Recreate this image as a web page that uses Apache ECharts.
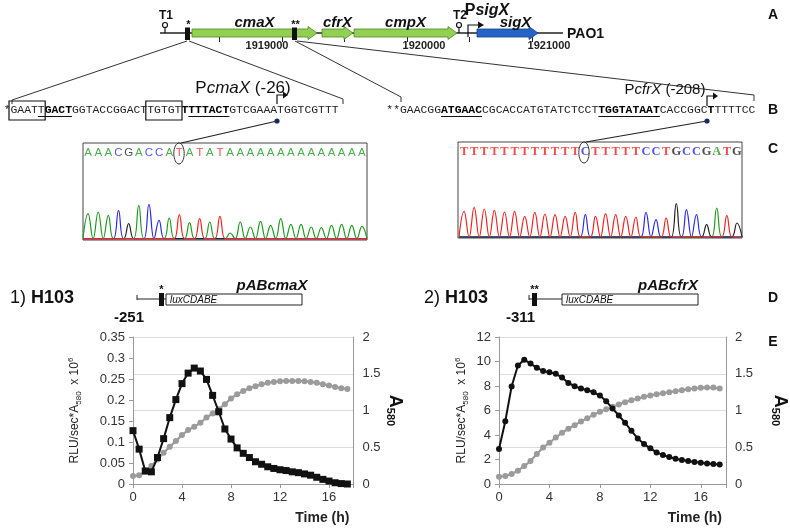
<!DOCTYPE html>
<html><head><meta charset="utf-8">
<script src="https://cdn.jsdelivr.net/npm/echarts@6/dist/echarts.min.js"></script>
<style>html,body{margin:0;padding:0;background:#fff}#c{width:790px;height:530px}</style>
</head><body><div id="c"></div>
<script>
// ---------- Panel E data ----------
const times = [0,0.5,1,1.5,2,2.5,3,3.5,4,4.5,5,5.5,6,6.5,7,7.5,8,8.5,9,9.5,10,10.5,11,11.5,12,12.5,13,13.5,14,14.5,15,15.5,16,16.5,17,17.5];
const cmaxRLU = [0.127,0.083,0.031,0.029,0.063,0.108,0.158,0.201,0.239,0.264,0.276,0.269,0.249,0.211,0.172,0.131,0.107,0.086,0.073,0.063,0.053,0.047,0.041,0.037,0.034,0.032,0.029,0.027,0.024,0.021,0.016,0.011,0.007,0.003,0.001,0.0];
const cmaxA580 = [0.109,0.118,0.167,0.244,0.335,0.425,0.507,0.584,0.665,0.733,0.778,0.833,0.905,0.959,1.018,1.086,1.163,1.222,1.267,1.303,1.330,1.357,1.376,1.389,1.398,1.403,1.403,1.403,1.398,1.389,1.376,1.357,1.339,1.321,1.303,1.294];
const cfrxRLU = [2.85,5.13,7.96,9.67,10.15,9.83,9.48,9.23,9.12,8.99,8.69,8.25,7.98,7.79,7.66,7.49,7.22,6.76,6.16,5.59,5.00,4.34,3.72,3.26,2.91,2.58,2.36,2.20,2.06,1.95,1.87,1.79,1.74,1.68,1.63,1.60];
const cfrxA580 = [0.100,0.109,0.136,0.181,0.244,0.312,0.407,0.498,0.561,0.633,0.697,0.751,0.801,0.851,0.896,0.941,0.982,1.018,1.050,1.081,1.113,1.140,1.163,1.186,1.204,1.222,1.235,1.249,1.262,1.276,1.290,1.299,1.308,1.312,1.312,1.299];
const xTicksE = [0,4,8,12,16];

// ---------- Panel C chromatogram data ----------
const chromLeftBases = 'AAACGACCATATATAAAAAAAAAAAAAA';
const chromLeftPeaks = [75,80,70,85,45,100,103,55,62,72,48,60,50,67,17,50,35,52,40,60,43,43,35,33,40,43,40,37];
const chromRightBases = 'TTTTTTTTTTTTCTTTTTCCTGCCGATG';
const chromRightPeaks = [77,89,84,80,75,77,62,74,69,67,62,74,67,62,70,67,62,60,74,52,57,100,82,67,37,87,64,42];

// ---------- Panel A gene map data ----------
const mapStart = [1918024,1918064,1918224,1918280,1919080,1919320,1919576,1920416,1920488,1920560];
const mapEnd   = [1921248,1918064,1918264,1919280,1919120,1919568,1920400,1920416,1920488,1921048];
const mapKind  = ['line','term','box','geneG','box','geneG','geneG','term','prom','geneB'];
const mapLabel = ['PAO1','T1','*','cmaX','**','cfrX','cmpX','T2','sigX','sigX'];
const mapTickPos = [1918500,1919000,1919500,1920000,1920500,1921000];
const mapTickLabels = [1919000,1920000,1921000];

// ---------- Panel B sequences ----------
const seqLeft = 'GAATTGACTGGTACCGGACTTGTGTTTTTACTGTCGAAATGGTCGTTT';
const seqRight = 'GAACGGATGAACCGCACCATGTATCTCCTTGGTATAATCACCGGCTTTTTCC';

const SANS = 'Liberation Sans, Arial, sans-serif';
const NARROW = 'Liberation Sans Narrow, Liberation Sans, Arial, sans-serif';
const MONO = 'Liberation Mono, Courier New, monospace';
const baseColor = {A:'#1f9a1f', C:'#2a2ae6', G:'#222222', T:'#ee2222'};

const chart = echarts.init(document.getElementById('c'));

function renderMap(params, api) {
  const i = params.dataIndex;
  const kind = mapKind[i], label = mapLabel[i];
  const p0 = api.coord([api.value(0), 0.5]);
  const p1 = api.coord([api.value(1), 0.5]);
  const x0 = p0[0], x1 = p1[0], y = p0[1];
  if (kind === 'line') {
    return {type:'group', children:[
      {type:'line', shape:{x1:x0,y1:y,x2:x1,y2:y}, style:{stroke:'#222', lineWidth:1.3}},
      {type:'text', style:{text:label, x:x1+4, y:y+1, verticalAlign:'middle', font:'bold 14px '+SANS, fill:'#111'}}
    ]};
  }
  if (kind === 'geneG' || kind === 'geneB') {
    const fill = kind === 'geneG' ? '#93cf52' : '#2366c8';
    const stroke = kind === 'geneG' ? '#4a8a22' : '#173f85';
    const hl = 9;
    return {type:'group', children:[
      {type:'polygon', shape:{points:[[x0,y-4],[x1-hl,y-4],[x1-hl,y-6.5],[x1,y],[x1-hl,y+6.5],[x1-hl,y+4],[x0,y+4]]},
        style:{fill:fill, stroke:stroke, lineWidth:0.8}},
      {type:'text', style:{text:label, x:(x0+x1)/2 + (kind==='geneB'?8:0), y:y-10, align:'center', verticalAlign:'middle',
        font:'italic bold 15px '+NARROW, fill:'#111'}}
    ]};
  }
  if (kind === 'box') {
    return {type:'group', children:[
      {type:'rect', shape:{x:x0, y:y-5.5, width:Math.max(x1-x0,4.5), height:12.5}, style:{fill:'#111'}},
      {type:'text', style:{text:label, x:(x0+x1)/2+1, y:y-8, align:'center', verticalAlign:'middle', font:'bold 11px '+SANS, fill:'#111'}}
    ]};
  }
  if (kind === 'term') {
    return {type:'group', children:[
      {type:'line', shape:{x1:x0,y1:y,x2:x0,y2:y-5.5}, style:{stroke:'#111', lineWidth:1.2}},
      {type:'circle', shape:{cx:x0, cy:y-8, r:2.5}, style:{fill:'#fff', stroke:'#111', lineWidth:1.2}},
      {type:'text', style:{text:label, x:x0+1, y:y-17, align:'center', verticalAlign:'middle', font:'bold 12px '+NARROW, fill:'#111'}}
    ]};
  }
  if (kind === 'prom') {
    return {type:'group', children:[
      {type:'polyline', shape:{points:[[x0,y+4],[x0,y-8],[x0+11,y-8]]}, style:{stroke:'#111', lineWidth:1.2, fill:null}},
      {type:'polygon', shape:{points:[[x0+10,y-11.5],[x0+16,y-8],[x0+10,y-4.5]]}, style:{fill:'#111'}},
      {type:'text', style:{text:'{p|P}{i|'+label+'}', x:x0+19, y:y-22, align:'center', verticalAlign:'middle',
        rich:{p:{font:'bold 16px '+NARROW, fill:'#111'}, i:{font:'italic bold 16px '+NARROW, fill:'#111'}}}}
    ]};
  }
  return null;
}

function chromSeries(bases, peaks, axisIdx) {
  const out = [];
  ['A','C','G','T'].forEach(b => {
    const data = [];
    for (let i = 0; i < bases.length; i++) {
      data.push([i-0.5, 0]);
      data.push([i, bases[i] === b ? peaks[i] : 0]);
    }
    data.push([bases.length-0.5, 0]);
    out.push({type:'line', xAxisIndex:axisIdx, yAxisIndex:axisIdx, data:data, smooth:0.45, showSymbol:false,
      lineStyle:{color:baseColor[b], width:1.2}, silent:true, z:2});
  });
  return out;
}
function letterSeries(bases, axisIdx, yv, font) {
  return {type:'scatter', xAxisIndex:axisIdx, yAxisIndex:axisIdx, symbolSize:2, itemStyle:{color:'rgba(0,0,0,0)'}, silent:true, z:5,
    data: bases.split('').map((b,i)=>({value:[i,yv], label:{color:baseColor[b]}})),
    label:{show:true, position:'inside', formatter:p=>bases[p.dataIndex], fontFamily:font.family, fontSize:font.size, fontWeight:font.weight},
    labelLayout:{hideOverlap:false}};
}
function pairs(xs, ys){ return xs.map((x,i)=>[x, ys[i]]); }

function seqText(seq, boldRanges) {
  let s = '', cur = null, buf = '';
  for (let i = 0; i < seq.length; i++) {
    const b = boldRanges.some(r => i >= r[0] && i < r[1]) ? 'b' : 'n';
    if (b !== cur && buf) { s += '{'+cur+'|'+buf+'}'; buf=''; }
    cur = b; buf += seq[i];
  }
  if (buf) s += '{'+cur+'|'+buf+'}';
  return s;
}
const CW = 6.84, FS = 11.4;
const seqRich = {n:{fontFamily:MONO, fontSize:FS, fill:'#222'}, b:{fontFamily:MONO, fontSize:FS, fontWeight:'bold', fill:'#000'}};
const xL = 10.5, xR = 400, ySeq = 110;

const gfx = [];
[['A',15],['B',110],['C',149],['D',298],['E',342]].forEach(([t,y])=>gfx.push({type:'text', style:{text:t, x:773, y:y, align:'center', verticalAlign:'middle', font:'bold 14px '+SANS, fill:'#111'}}));
[[[187,41],[12,100],[12,104]], [[189,41],[343,99],[343,104]], [[295,41],[401,97],[401,102]], [[297,41],[754,95],[754,101]]]
  .forEach(pts=>gfx.push({type:'polyline', shape:{points:pts}, style:{stroke:'#333', lineWidth:1, fill:null}}));
gfx.push({type:'text', style:{text:'{n|*}'+seqText(seqLeft, [[5,9],[25,32]]), x:xL-CW, y:ySeq, verticalAlign:'middle', rich:seqRich}});
gfx.push({type:'text', style:{text:'{n|**}'+seqText(seqRight, [[6,12],[29,38],[45,46]]), x:xR-2*CW, y:ySeq, verticalAlign:'middle', rich:seqRich}});
[[xL,0,5],[xL,20,25]].forEach(([x0,a,b])=>gfx.push({type:'rect', shape:{x:x0+a*CW-1.5, y:101, width:(b-a)*CW+2, height:19}, style:{fill:null, stroke:'#111', lineWidth:1.2}}));
[[xL,4,9],[xL,26,32],[xR,6,12],[xR,29,38]].forEach(([x0,a,b])=>gfx.push({type:'line', shape:{x1:x0+a*CW, y1:116.5, x2:x0+b*CW, y2:116.5}, style:{stroke:'#111', lineWidth:1}}));
gfx.push({type:'text', style:{text:'{n|P}{i|cmaX}{n| (-26)}', x:243, y:88, align:'center', verticalAlign:'middle',
  rich:{n:{font:'17px '+SANS, fill:'#111'}, i:{font:'italic 17px '+SANS, fill:'#111'}}}});
gfx.push({type:'text', style:{text:'{n|P}{i|cfrX}{n| (-208)}', x:665, y:90, align:'center', verticalAlign:'middle',
  rich:{n:{font:'15px '+SANS, fill:'#111'}, i:{font:'italic 15px '+SANS, fill:'#111'}}}});
[[277,104,95],[707,106,96]].forEach(([x,y1,y2])=>{
  gfx.push({type:'polyline', shape:{points:[[x,y1],[x,y2],[x+7,y2]]}, style:{stroke:'#111', lineWidth:1.2, fill:null}});
  gfx.push({type:'polygon', shape:{points:[[x+6,y2-3.5],[x+11,y2],[x+6,y2+3.5]]}, style:{fill:'#111'}});
});
[[277,121,181,143,179,153.5],[707,121,586,142,584,152.5]].forEach(([dx,dy,lx,ly,ex,ey])=>{
  gfx.push({type:'line', shape:{x1:dx,y1:dy,x2:lx,y2:ly}, style:{stroke:'#222', lineWidth:1.2}});
  gfx.push({type:'circle', shape:{cx:dx, cy:dy, r:2.6}, style:{fill:'#1a2a5a'}});
  gfx.push({type:'ellipse', shape:{cx:ex, cy:ey, rx:5.2, ry:10.5}, style:{fill:null, stroke:'#333', lineWidth:1}, z:10});
});
function construct(x, label, stars, x0, xb, xl, xr, numLabel, plas) {
  gfx.push({type:'text', style:{text:'{n|'+label.split(' ')[0]+' }{b|'+label.split(' ')[1]+'}', x:x, y:298, verticalAlign:'middle',
    rich:{n:{font:'18px '+NARROW, fill:'#111'}, b:{font:'bold 18px '+NARROW, fill:'#111'}}}});
  gfx.push({type:'line', shape:{x1:x0,y1:299,x2:xl,y2:299}, style:{stroke:'#222', lineWidth:1}});
  gfx.push({type:'line', shape:{x1:x0,y1:295,x2:x0,y2:300}, style:{stroke:'#222', lineWidth:1}});
  gfx.push({type:'rect', shape:{x:xb, y:293, width:5, height:13}, style:{fill:'#111'}});
  gfx.push({type:'text', style:{text:stars, x:xb+2.5, y:290, align:'center', verticalAlign:'middle', font:'bold 11px '+SANS, fill:'#111'}});
  gfx.push({type:'rect', shape:{x:xl, y:294, width:xr-xl, height:11}, style:{fill:'#fff', stroke:'#222', lineWidth:1}});
  gfx.push({type:'text', style:{text:'luxCDABE', x:xl+4, y:300, verticalAlign:'middle', font:'italic 10px '+SANS, fill:'#111'}});
  gfx.push({type:'text', style:{text:numLabel, x:x0-23, y:318, verticalAlign:'middle', font:'bold 15px '+NARROW, fill:'#111'}});
  gfx.push({type:'text', style:{text:plas, x:xr-30, y:286, align:'center', verticalAlign:'middle', font:'italic bold 15px '+NARROW, fill:'#111'}});
}
construct(10, '1) H103', '*', 137, 159, 166, 302, '-251', 'pABcmaX');
construct(424, '2) H103', '**', 529, 532, 562, 698, '-311', 'pABcfrX');

const axisGray = '#9a9a9a';
function eX(grid) {
  return {gridIndex:grid, type:'value', min:0, max:18, interval:4,
    axisLine:{lineStyle:{color:axisGray}}, axisTick:{show:true, length:4, lineStyle:{color:axisGray}},
    axisLabel:{formatter:v=>xTicksE.includes(v)?String(v):'', color:'#333', fontSize:13, fontFamily:SANS, margin:7},
    splitLine:{show:false},
    name:'Time (h)', nameLocation:'end', nameGap:-4,
    nameTextStyle:{align:'right', verticalAlign:'top', padding:[27,0,0,0], fontWeight:'bold', fontSize:14, fontFamily:SANS, color:'#222'}};
}
function eYL(grid, max, interval, gap) {
  return {gridIndex:grid, type:'value', min:0, max:max, interval:interval, position:'left',
    axisLine:{show:true, lineStyle:{color:axisGray}}, axisTick:{show:true, length:4, lineStyle:{color:axisGray}},
    axisLabel:{color:'#333', fontSize:13, fontFamily:SANS, margin:8}, splitLine:{show:false},
    name:'{a|RLU/sec*A}{s|580}{a|  x 10}{p|6}', nameLocation:'middle', nameRotate:90, nameGap:gap,
    nameTextStyle:{rich:{a:{fontSize:12, fontFamily:SANS, color:'#222', lineHeight:16}, s:{fontSize:8, fontFamily:SANS, color:'#222', verticalAlign:'bottom', lineHeight:16}, p:{fontSize:8, fontFamily:SANS, color:'#222', verticalAlign:'top', lineHeight:16}}}};
}
function eYR(grid, gap) {
  return {gridIndex:grid, type:'value', min:0, max:2, interval:0.5, position:'right',
    axisLine:{show:true, lineStyle:{color:axisGray}}, axisTick:{show:false},
    axisLabel:{color:'#333', fontSize:13, fontFamily:SANS, margin:9}, splitLine:{show:true, lineStyle:{color:'#dcdcdc', width:1}},
    name:'{a|A}{s|580}', nameLocation:'middle', nameRotate:-90, nameGap:gap,
    nameTextStyle:{rich:{a:{fontSize:18, fontWeight:'bold', fontFamily:SANS, color:'#111', lineHeight:20}, s:{fontSize:11, fontWeight:'bold', fontFamily:SANS, color:'#111', verticalAlign:'bottom', lineHeight:20}}}};
}

const option = {
  animation:false,
  backgroundColor:'#fff',
  grid:[
    {left:157, top:29, width:375, height:8},
    {left:83, top:143, width:284, height:97, show:true, borderColor:'#444', borderWidth:1, backgroundColor:'transparent'},
    {left:458, top:142, width:284, height:96, show:true, borderColor:'#444', borderWidth:1, backgroundColor:'transparent'},
    {left:133, top:337, width:220.5, height:147},
    {left:499, top:337, width:231, height:147}
  ],
  xAxis:[
    {gridIndex:0, type:'value', min:1918000, max:1921000, interval:500,
      axisLine:{show:false}, splitLine:{show:false},
      axisTick:{show:true, customValues:mapTickPos, length:5, lineStyle:{color:'#222'}},
      axisLabel:{customValues:mapTickLabels, margin:3,
        formatter:v=> v===1919000 ? '{l|'+v+'}' : '{r|'+v+'}',
        rich:{l:{fontSize:11, fontWeight:'bold', fontFamily:NARROW, color:'#222', padding:[0,30,0,0]},
              r:{fontSize:11, fontWeight:'bold', fontFamily:NARROW, color:'#222', padding:[0,0,0,34]}}}},
    {gridIndex:1, type:'value', min:-0.5, max:27.5, show:false},
    {gridIndex:2, type:'value', min:-0.6, max:27.5, show:false},
    eX(3), eX(4)
  ],
  yAxis:[
    {gridIndex:0, type:'value', min:0, max:1, show:false},
    {gridIndex:1, type:'value', min:-4, max:287, show:false},
    {gridIndex:2, type:'value', min:-3, max:285, show:false},
    eYL(3, 0.35, 0.05, 50), eYR(3, 27),
    eYL(4, 12, 2, 29), eYR(4, 44)
  ],
  series:[
    {type:'custom', xAxisIndex:0, yAxisIndex:0, clip:false, silent:true, renderItem:renderMap,
      data: mapStart.map((s,i)=>[s, mapEnd[i]]), encode:{x:[0,1]}},
    ...chromSeries(chromLeftBases, chromLeftPeaks, 1),
    ...chromSeries(chromRightBases, chromRightPeaks, 2),
    letterSeries(chromLeftBases, 1, 258, {family:SANS, size:11.5, weight:'normal'}),
    letterSeries(chromRightBases, 2, 255, {family:'Liberation Serif, serif', size:12.5, weight:'bold'}),
    {type:'line', xAxisIndex:3, yAxisIndex:4, data:pairs(times,cmaxA580), symbol:'circle', symbolSize:6,
      itemStyle:{color:'#9b9b9b'}, lineStyle:{color:'#9b9b9b', width:2.2}, z:3},
    {type:'line', xAxisIndex:3, yAxisIndex:3, data:pairs(times,cmaxRLU), symbol:'rect', symbolSize:7,
      itemStyle:{color:'#111'}, lineStyle:{color:'#111', width:2}, z:4},
    {type:'line', xAxisIndex:4, yAxisIndex:6, data:pairs(times,cfrxA580), symbol:'circle', symbolSize:6,
      itemStyle:{color:'#9b9b9b'}, lineStyle:{color:'#9b9b9b', width:2.2}, z:3},
    {type:'line', xAxisIndex:4, yAxisIndex:5, data:pairs(times,cfrxRLU), symbol:'circle', symbolSize:6,
      itemStyle:{color:'#111'}, lineStyle:{color:'#111', width:2}, z:4}
  ],
  graphic: gfx
};
chart.setOption(option);
</script></body></html>
